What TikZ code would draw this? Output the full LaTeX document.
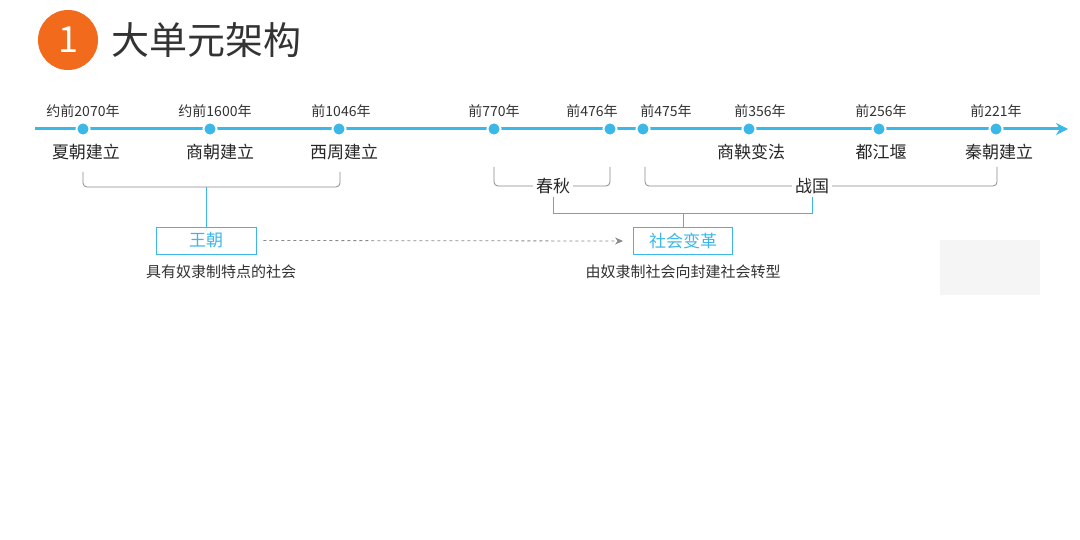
\documentclass[tikz,border=0pt]{standalone}
\usepackage{fontspec}
\setmainfont{Noto Sans CJK SC}
\usetikzlibrary{arrows.meta}
\definecolor{tblue}{HTML}{3BB8E8}
\definecolor{torange}{HTML}{F26B1D}
\definecolor{tgray}{HTML}{8A8A8A}
\begin{document}
\begin{tikzpicture}[x=1pt,y=-1pt,
  dot/.style={circle,fill=tblue,draw=white,line width=2pt,inner sep=0pt,minimum size=13pt},
  yr/.style={font=\fontsize{14}{14}\selectfont,text=black!80,inner sep=1pt},
  ev/.style={font=\fontsize{17}{17}\selectfont,text=black!85},
  brk/.style={draw=tgray,line width=0.8pt,rounded corners=4pt},
  lnk/.style={draw=tblue,line width=0.8pt},
  bx/.style={draw=tblue,line width=0.9pt,text=tblue,font=\fontsize{17}{17}\selectfont,minimum height=27pt,inner sep=2pt},
  note/.style={font=\fontsize{15}{15}\selectfont,text=black!80}]
\useasboundingbox (0,0) rectangle (1080,540);
\fill[white] (0,0) rectangle (1080,540);
% header
\node[circle,fill=torange,minimum size=60pt,inner sep=0pt,text=white,font=\fontsize{36}{36}\selectfont] (num) at (68,40) {1};
\node[anchor=west,font=\fontsize{38}{38}\selectfont,text=black!80] (title) at (108,40) {大单元架构};
% timeline
\coordinate (ts) at (35,129);
\coordinate (te) at (1068,129);
\draw[tblue,line width=3pt,-{Stealth[length=12pt,width=12pt]}] (ts) -- (te);
\foreach \n/\x/\lx/\ex/\y/\e in {a/83/83/86/约前2070年/夏朝建立,b/210/215/220/约前1600年/商朝建立,c/339/341/344/前1046年/西周建立,d/494/494/494/前770年/,e/610/592/592/前476年/,f/643/666/666/前475年/,g/749/760/751/前356年/商鞅变法,h/879/881/881/前256年/都江堰,i/996/996/999/前221年/秦朝建立}{
  \node[dot] (\n) at (\x,129) {};
  \node[yr] (\n y) at (\lx,111) {\y};
  \node[ev] (\n e) at (\ex,152) {\e};
}
% brackets
\draw[brk] (83,172) -- (83,187) -- (340,187) -- (340,172);
\node[ev,fill=white,inner sep=3pt] (cq) at (553,186) {春秋};
\draw[brk] (494,167) |- (cq.west);
\draw[brk] (610,167) |- (cq.east);
\node[ev,fill=white,inner sep=3pt] (zg) at (812,186) {战国};
\draw[brk] (645,167) |- (zg.west);
\draw[brk] (997,167) |- (zg.east);
% boxes
\node[bx,minimum width=100pt] (wc) at (206,240.5) {王朝};
\node[bx,minimum width=99pt] (sh) at (683,241) {社会变革};
\draw[lnk] (206,187) -- (wc.north);
\draw[lnk] (cq.south) -- (553,213) -- (812,213) -- (zg.south);
\draw[lnk] (683,213) -- (sh.north);
\draw[tgray,dashed,line width=0.8pt,-{Stealth[length=8pt,width=7pt]}] ([xshift=7pt]wc.east) -- ([xshift=-10pt]sh.west);
\node[note] (n1) at (221,272) {具有奴隶制特点的社会};
\node[note] (n2) at (683,272) {由奴隶制社会向封建社会转型};
\fill[black!4] (940,240) rectangle (1040,295);
\end{tikzpicture}
\end{document}
